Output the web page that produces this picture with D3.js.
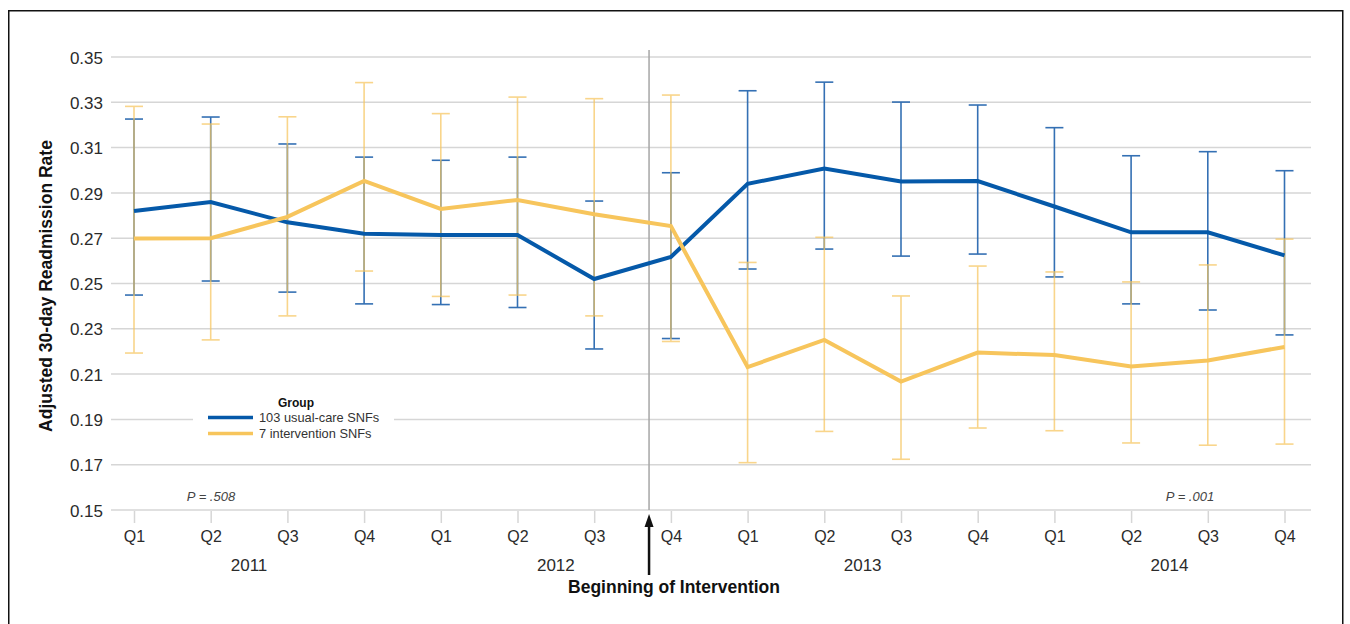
<!DOCTYPE html>
<html>
<head>
<meta charset="utf-8">
<script src="https://cdn.jsdelivr.net/npm/d3@7"></script>
<style>
  html, body { margin: 0; padding: 0; background: #fff; }
  svg { display: block; font-family: "Liberation Sans", Arial, sans-serif; }
</style>
</head>
<body>
<svg id="chart" width="1350" height="624"></svg>
<script>
// Quarterly periods 2011–2014
const years = ["2011", "2012", "2013", "2014"];
const quarters = ["Q1", "Q2", "Q3", "Q4"];
const periods = years.flatMap(y => quarters.map(q => y + " " + q));

// 103 usual-care SNFs: adjusted rate with 95% CI
const usualRate  = [0.282, 0.286, 0.277, 0.272, 0.2714, 0.2714, 0.252, 0.2617, 0.294, 0.3008, 0.295, 0.2952, 0.284, 0.2726, 0.2726, 0.2624];
const usualUpper = [0.3226, 0.3235, 0.3116, 0.3058, 0.3044, 0.3058, 0.2864, 0.2989, 0.3351, 0.3389, 0.3301, 0.3288, 0.3188, 0.3064, 0.3082, 0.2998];
const usualLower = [0.2449, 0.2511, 0.2462, 0.241, 0.2407, 0.2394, 0.2211, 0.2257, 0.2564, 0.2652, 0.2621, 0.263, 0.2529, 0.241, 0.2383, 0.2273];

// 7 intervention SNFs: adjusted rate with 95% CI
const intvRate  = [0.2699, 0.27, 0.2794, 0.2953, 0.2829, 0.2869, 0.2806, 0.2754, 0.2131, 0.2251, 0.2067, 0.2195, 0.2184, 0.2134, 0.216, 0.222];
const intvUpper = [0.3282, 0.3204, 0.3236, 0.3387, 0.325, 0.3323, 0.3316, 0.3332, 0.2593, 0.2704, 0.2445, 0.2577, 0.2551, 0.2507, 0.2582, 0.2696];
const intvLower = [0.2193, 0.2251, 0.2357, 0.2555, 0.2443, 0.2449, 0.2357, 0.2244, 0.1709, 0.1847, 0.1724, 0.1862, 0.185, 0.1796, 0.1786, 0.1791];

const yTicks = [0.15, 0.17, 0.19, 0.21, 0.23, 0.25, 0.27, 0.29, 0.31, 0.33, 0.35];
const groupNames = ["103 usual-care SNFs", "7 intervention SNFs"];
const pValues = ["P = .508", "P = .001"];

const BLUE = "#0559a9", ORANGE = "#f7c55c";
const BLUE_BAR = "#2a69b0", ORANGE_BAR = "#f7c65f";

const svg = d3.select("#chart");

// outer frame
svg.append("rect")
  .attr("x", 8.75).attr("y", 10.75).attr("width", 1334).attr("height", 640)
  .attr("fill", "none").attr("stroke", "#111").attr("stroke-width", 1.5);

const plot = { left: 111, right: 1311, top: 57, bottom: 510 };

const x = d3.scalePoint().domain(periods).range([134, 1284.5]);
const y = d3.scaleLinear().domain([0.15, 0.35]).range([plot.bottom, plot.top]);

// horizontal gridlines
svg.append("g").selectAll("line").data(yTicks).join("line")
  .attr("x1", plot.left).attr("x2", plot.right)
  .attr("y1", d => y(d)).attr("y2", d => y(d))
  .attr("stroke", "#d6d6d6").attr("stroke-width", 1.5);

// y axis tick labels
const yAxis = d3.axisLeft(y).tickValues(yTicks).tickFormat(d3.format(".2f")).tickSize(0).tickPadding(0);
const gy = svg.append("g").attr("transform", `translate(${plot.left - 8},0)`).call(yAxis);
gy.select(".domain").remove();
gy.selectAll("text").attr("font-size", 17).attr("fill", "#2b2b2b")
  .attr("font-family", "Liberation Sans, Arial, sans-serif").attr("dy", "0.36em");

// x axis with quarter labels
const xAxis = d3.axisBottom(x).tickFormat(d => d.split(" ")[1]).tickSize(12).tickPadding(8);
const gx = svg.append("g").attr("transform", `translate(0,${plot.bottom + 1})`).call(xAxis);
gx.select(".domain").remove();
gx.selectAll(".tick line").attr("stroke", "#d6d6d6").attr("stroke-width", 1.5);
gx.selectAll("text").attr("font-size", 16).attr("fill", "#2b2b2b")
  .attr("font-family", "Liberation Sans, Arial, sans-serif");

// year labels centred between Q2 and Q3
svg.append("g").selectAll("text").data(years).join("text")
  .attr("x", d => (x(d + " Q2") + x(d + " Q3")) / 2)
  .attr("y", 571)
  .attr("text-anchor", "middle").attr("font-size", 17).attr("fill", "#2b2b2b")
  .text(d => d);

// y axis title
svg.append("text")
  .attr("transform", `translate(52,${286}) rotate(-90)`)
  .attr("text-anchor", "middle").attr("font-size", 17.5).attr("font-weight", "bold").attr("fill", "#111")
  .text("Adjusted 30-day Readmission Rate");

// intervention start marker
const xStart = (x("2012 Q3") + x("2012 Q4")) / 2 + 16.5;
svg.append("line")
  .attr("x1", xStart).attr("x2", xStart).attr("y1", 50).attr("y2", plot.bottom)
  .attr("stroke", "#a6a6a6").attr("stroke-width", 1.5);

// error bars
function errorBars(lower, upper, color, opacity) {
  const g = svg.append("g").attr("stroke", color).attr("stroke-width", 1.6).attr("opacity", opacity).attr("fill", "none");
  const half = 9;
  periods.forEach((p, i) => {
    const cx = x(p);
    g.append("line").attr("x1", cx).attr("x2", cx).attr("y1", y(upper[i])).attr("y2", y(lower[i]));
    g.append("line").attr("x1", cx - half).attr("x2", cx + half).attr("y1", y(upper[i])).attr("y2", y(upper[i]));
    g.append("line").attr("x1", cx - half).attr("x2", cx + half).attr("y1", y(lower[i])).attr("y2", y(lower[i]));
  });
}
errorBars(usualLower, usualUpper, BLUE_BAR, 0.95);
errorBars(intvLower, intvUpper, ORANGE_BAR, 0.72);

// series lines
const line = d3.line().x((d, i) => x(periods[i])).y(d => y(d));
svg.append("path").datum(usualRate).attr("d", line)
  .attr("fill", "none").attr("stroke", BLUE).attr("stroke-width", 4).attr("stroke-linejoin", "miter");
svg.append("path").datum(intvRate).attr("d", line)
  .attr("fill", "none").attr("stroke", ORANGE).attr("stroke-width", 4).attr("stroke-linejoin", "miter");

// legend
const lg = svg.append("g");
lg.append("rect").attr("x", 193).attr("y", 392).attr("width", 201).attr("height", 54).attr("fill", "#fff");
lg.append("text").attr("x", 296).attr("y", 407).attr("text-anchor", "middle")
  .attr("font-size", 12).attr("font-weight", "bold").attr("fill", "#111").text("Group");
[BLUE, ORANGE].forEach((c, i) => {
  const ly = 417.5 + i * 16;
  lg.append("line").attr("x1", 208).attr("x2", 253).attr("y1", ly).attr("y2", ly)
    .attr("stroke", c).attr("stroke-width", 3.5);
  lg.append("text").attr("x", 259).attr("y", ly + 4.5).attr("font-size", 12.8).attr("fill", "#333")
    .text(groupNames[i]);
});

// p-values
svg.append("g").selectAll("text").data(pValues).join("text")
  .attr("x", (d, i) => i === 0 ? 211 : 1190)
  .attr("y", 501)
  .attr("text-anchor", "middle").attr("font-size", 13).attr("font-style", "italic").attr("fill", "#444")
  .text(d => d);

// arrow pointing at the intervention start
const ax = xStart;
svg.append("line").attr("x1", ax).attr("x2", ax).attr("y1", 575).attr("y2", 524)
  .attr("stroke", "#111").attr("stroke-width", 2.5);
svg.append("path")
  .attr("d", `M${ax},514 L${ax - 4.5},527 L${ax + 4.5},527 Z`).attr("fill", "#111");
svg.append("text").attr("x", 674).attr("y", 593).attr("text-anchor", "middle")
  .attr("font-size", 17.5).attr("font-weight", "bold").attr("fill", "#111")
  .text("Beginning of Intervention");
</script>
</body>
</html>
